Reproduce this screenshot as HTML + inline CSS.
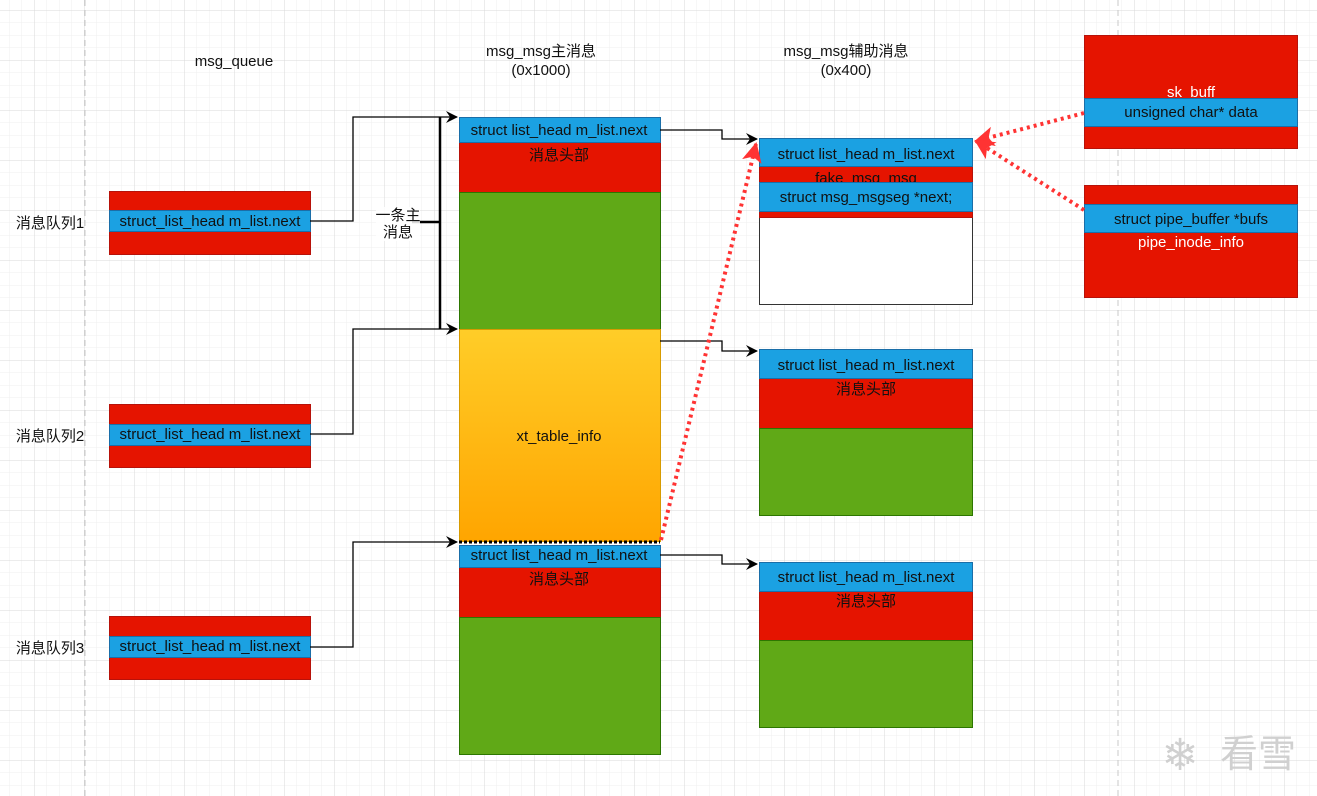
<!DOCTYPE html>
<html><head><meta charset="utf-8"><style>
html,body{margin:0;padding:0;background:#fff}
svg{display:block}
text{font-family:"Liberation Sans","Noto Sans CJK SC",sans-serif;font-size:15px;text-anchor:middle;fill:#111}
</style></head><body>
<svg width="1317" height="796" viewBox="0 0 1317 796" xmlns="http://www.w3.org/2000/svg">
<defs>
<pattern id="gm" width="12.5" height="12.5" patternUnits="userSpaceOnUse" x="9" y="10">
<path d="M0 0H12.5M0 0V12.5" stroke="#efefef" stroke-width="1" fill="none"/></pattern>
<pattern id="gM" width="50" height="50" patternUnits="userSpaceOnUse" x="34" y="10">
<path d="M0 0H50M0 0V50" stroke="#d9d9d9" stroke-width="1" fill="none"/></pattern>
<linearGradient id="og" x1="0" y1="0" x2="0" y2="1"><stop offset="0" stop-color="#ffcd28"/><stop offset="1" stop-color="#ffa500"/></linearGradient>
<marker id="a" markerWidth="12" markerHeight="12" refX="11" refY="6" orient="auto" markerUnits="userSpaceOnUse"><path d="M0 0L12 6L0 12L4 6Z" fill="#000"/></marker>
<marker id="r" markerWidth="20" markerHeight="20" refX="18" refY="10" orient="auto" markerUnits="userSpaceOnUse"><path d="M0 0L20 10L0 20L5 10Z" fill="#ff3333"/></marker>
</defs>
<rect width="1317" height="796" fill="url(#gm)"/>
<rect width="1317" height="796" fill="url(#gM)"/>
<line x1="85" y1="0" x2="85" y2="796" stroke="#c8c8c8" stroke-dasharray="6 4"/>
<line x1="1118" y1="0" x2="1118" y2="796" stroke="#c8c8c8" stroke-dasharray="6 4"/>

<text x="234" y="66">msg_queue</text>
<text x="541" y="56">msg_msg主消息</text><text x="541" y="75">(0x1000)</text>
<text x="846" y="56">msg_msg辅助消息</text><text x="846" y="75">(0x400)</text>
<text x="50" y="228">消息队列1</text><text x="50" y="441">消息队列2</text><text x="50" y="653">消息队列3</text>

<g stroke="#b7120a">
<rect x="109.5" y="191.5" width="201" height="63" fill="#e51400"/>
<rect x="109.5" y="404.5" width="201" height="63" fill="#e51400"/>
<rect x="109.5" y="616.5" width="201" height="63" fill="#e51400"/>
</g>
<g stroke="#1a6ea8" fill="#1ba1e2">
<rect x="109.5" y="210.5" width="201" height="21"/>
<rect x="109.5" y="424.5" width="201" height="21"/>
<rect x="109.5" y="636.5" width="201" height="21"/>
</g>
<text x="210" y="226">struct_list_head m_list.next</text>
<text x="210" y="439">struct_list_head m_list.next</text>
<text x="210" y="651">struct_list_head m_list.next</text>

<rect x="459.5" y="142.5" width="201" height="50" fill="#e51400" stroke="#b7120a"/>
<rect x="459.5" y="192.5" width="201" height="137" fill="#60a917" stroke="#2d7600"/>
<rect x="459.5" y="329.5" width="201" height="212" fill="url(#og)" stroke="#d79b00"/>
<line x1="459" y1="542" x2="660" y2="542" stroke="#000" stroke-width="3" stroke-dasharray="3 2"/>
<rect x="459.5" y="117.5" width="201" height="25" fill="#1ba1e2" stroke="#1a6ea8"/>
<rect x="459.5" y="567.5" width="201" height="50" fill="#e51400" stroke="#b7120a"/>
<rect x="459.5" y="617.5" width="201" height="137" fill="#60a917" stroke="#2d7600"/>
<rect x="459.5" y="545.5" width="201" height="22" fill="#1ba1e2" stroke="#1a6ea8"/>
<text x="559" y="135">struct list_head m_list.next</text>
<text x="559" y="160">消息头部</text>
<text x="559" y="441">xt_table_info</text>
<text x="559" y="560">struct list_head m_list.next</text>
<text x="559" y="584">消息头部</text>

<rect x="759.5" y="138.5" width="213" height="166" fill="#fff" stroke="#333"/>
<rect x="759.5" y="166.5" width="213" height="51" fill="#e51400" stroke="#b7120a"/>
<text x="866" y="183">fake_msg_msg</text>
<rect x="759.5" y="138.5" width="213" height="28" fill="#1ba1e2" stroke="#1a6ea8"/>
<rect x="759.5" y="182.5" width="213" height="29" fill="#1ba1e2" stroke="#1a6ea8"/>
<text x="866" y="159">struct list_head m_list.next</text>
<text x="866" y="202">struct msg_msgseg *next;</text>

<rect x="759.5" y="378.5" width="213" height="50" fill="#e51400" stroke="#b7120a"/>
<rect x="759.5" y="428.5" width="213" height="87" fill="#60a917" stroke="#2d7600"/>
<rect x="759.5" y="349.5" width="213" height="29" fill="#1ba1e2" stroke="#1a6ea8"/>
<text x="866" y="370">struct list_head m_list.next</text>
<text x="866" y="394">消息头部</text>

<rect x="759.5" y="591.5" width="213" height="49" fill="#e51400" stroke="#b7120a"/>
<rect x="759.5" y="640.5" width="213" height="87" fill="#60a917" stroke="#2d7600"/>
<rect x="759.5" y="562.5" width="213" height="29" fill="#1ba1e2" stroke="#1a6ea8"/>
<text x="866" y="582">struct list_head m_list.next</text>
<text x="866" y="606">消息头部</text>

<rect x="1084.5" y="35.5" width="213" height="113" fill="#e51400" stroke="#b7120a"/>
<text x="1191" y="97" style="fill:#fff">sk_buff</text>
<rect x="1084.5" y="98.5" width="213" height="28" fill="#1ba1e2" stroke="#1a6ea8"/>
<text x="1191" y="117">unsigned char* data</text>
<rect x="1084.5" y="185.5" width="213" height="112" fill="#e51400" stroke="#b7120a"/>
<rect x="1084.5" y="204.5" width="213" height="28" fill="#1ba1e2" stroke="#1a6ea8"/>
<text x="1191" y="224">struct pipe_buffer *bufs</text>
<text x="1191" y="247" style="fill:#fff">pipe_inode_info</text>

<g fill="none" stroke="#000" stroke-width="1.3">
<path d="M310 221H353V117H457" marker-end="url(#a)"/>
<path d="M310 434H353V329H457" marker-end="url(#a)"/>
<path d="M310 647H353V542H457" marker-end="url(#a)"/>
<path d="M660 130H722V139H757" marker-end="url(#a)"/>
<path d="M660 341H722V351H757" marker-end="url(#a)"/>
<path d="M660 555H722V564H757" marker-end="url(#a)"/>
<path d="M440 117V329" stroke-width="2.5"/>
<path d="M412 222H440" stroke-width="2.5"/>
</g>
<rect x="376" y="207" width="44" height="34" fill="#fff" opacity="0.85"/>
<text x="398" y="220">一条主</text><text x="398" y="237">消息</text>
<g fill="none" stroke="#ff3333" stroke-width="4" stroke-dasharray="3 4">
<path d="M661 540L756 144" marker-end="url(#r)"/>
<path d="M1084 113L976 141" marker-end="url(#r)"/>
<path d="M1084 210L976 141" marker-end="url(#r)"/>
</g>
<text x="1180" y="770" style="font-size:44px;fill:#d0d0d0">❄</text>
<text x="1258" y="767" style="font-size:38px;fill:#d0d0d0">看雪</text>
</svg>
</body></html>
